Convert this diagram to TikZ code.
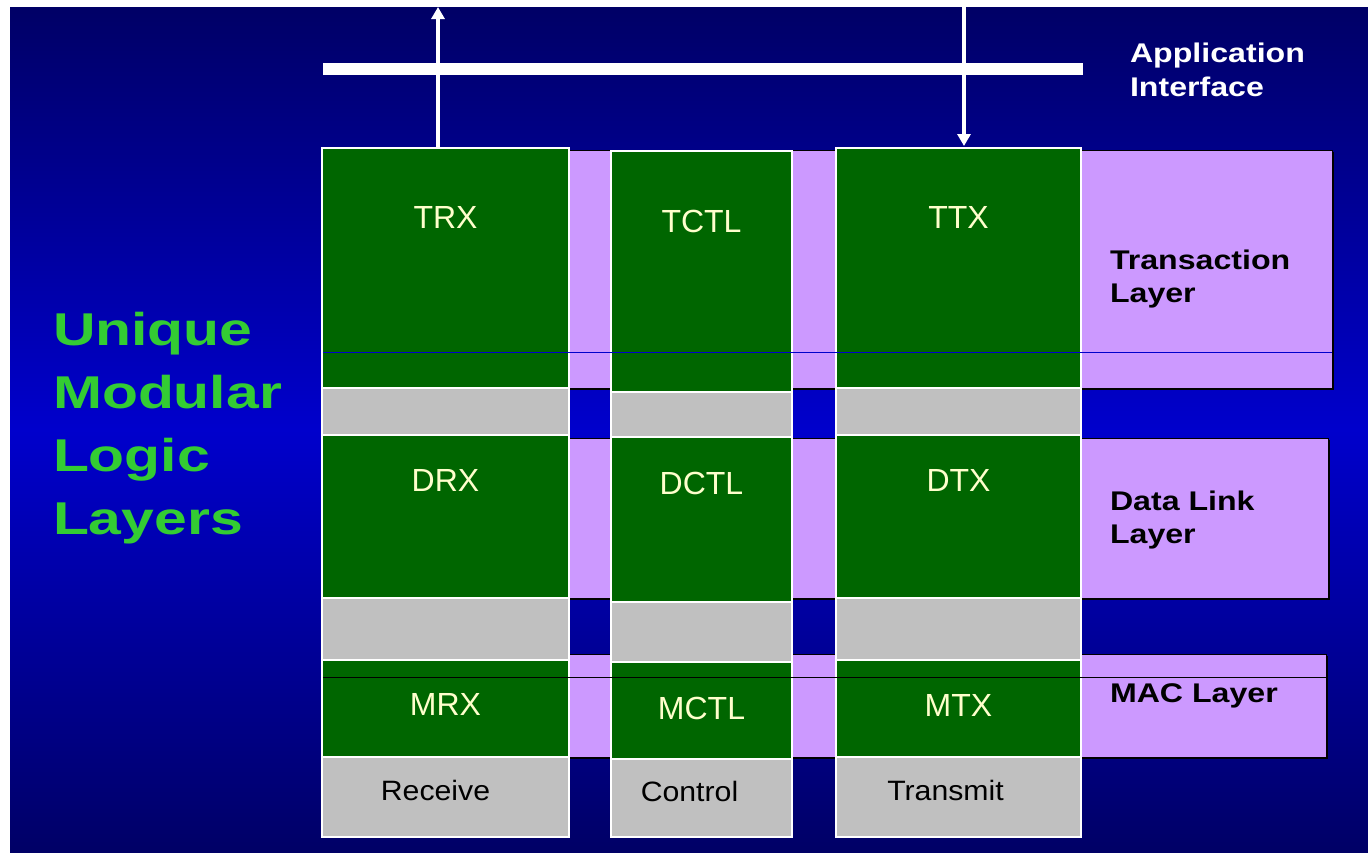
\documentclass[tikz,border=0pt]{standalone}
\usepackage{fontspec}
\setmainfont{Liberation Sans}
\newfontfamily\titlefont[FakeStretch=1.28]{Liberation Sans}
\newfontfamily\layerfont[FakeStretch=1.19]{Liberation Sans}
\newfontfamily\basefont[FakeStretch=1.08]{Liberation Sans}
\usetikzlibrary{positioning}
\usetikzlibrary{arrows.meta}
\definecolor{bgdark}{HTML}{000066}
\definecolor{bgmid}{HTML}{0000CC}
\definecolor{layerpurple}{HTML}{CC99FF}
\definecolor{modgreen}{HTML}{006600}
\definecolor{modgray}{HTML}{C0C0C0}
\definecolor{modtext}{HTML}{FFFFCC}
\definecolor{titlegreen}{HTML}{33CC33}
\tikzset{x=1pt, y=-1pt,
    every node/.style={
        inner sep=0pt,
        outer sep=0pt},
    layerband/.style={
        draw=black,
        fill=layerpurple,
        line width=0.8pt,
        anchor=north west,
        preaction={fill=black, transform canvas={shift={(2pt,-2pt)}}}},
    greenbox/.style={
        draw=white,
        line width=2pt,
        fill=modgreen},
    graybox/.style={
        draw=white,
        line width=2pt,
        fill=modgray},
    rxcol/.style={minimum width=247},
    ctlcol/.style={minimum width=181},
    txcol/.style={minimum width=245},
    modlabel/.style={
        anchor=base,
        text=modtext,
        font=\fontsize{32}{38}\selectfont},
    baselabel/.style={
        anchor=base,
        text=black,
        font=\basefont\fontsize{28}{34}\selectfont},
    layertext/.style={
        anchor=north west,
        align=left,
        text=black,
        font=\layerfont\fontsize{27}{33}\selectfont\bfseries},
    apiarrow/.style={
        draw=white,
        line width=3.5pt,
        -{Triangle[width=13pt,length=12pt]}}}
\begin{document}
\begin{tikzpicture}
    \useasboundingbox (0,0) rectangle (1368,852);
    \fill[white] (0,0) rectangle (1368,852);
    \shade[top color=bgdark, bottom color=bgdark, middle color=bgmid] (10,7) rectangle (1368,852);

    % layer bands
    \node[layerband, minimum width=1002, minimum height=238] (transband) at (330,150) {};
    \node[layerband, minimum width=768, minimum height=160] (dlband) at (560,438) {};
    \node[layerband, minimum width=766, minimum height=103] (macband) at (560,654) {};

    % receive column
    \node[greenbox, rxcol, minimum height=240, anchor=north] (trx) at (445.5,148) {};
    \node[graybox, rxcol, minimum height=47, below=0pt of trx] (rxgapa) {};
    \node[greenbox, rxcol, minimum height=163, below=0pt of rxgapa] (drx) {};
    \node[graybox, rxcol, minimum height=62, below=0pt of drx] (rxgapb) {};
    \node[greenbox, rxcol, minimum height=97, below=0pt of rxgapb] (mrx) {};
    \node[graybox, rxcol, minimum height=80, below=0pt of mrx] (rxbase) {};

    % control column
    \node[greenbox, ctlcol, minimum height=241, anchor=north] (tctl) at (701.5,151) {};
    \node[graybox, ctlcol, minimum height=45, below=0pt of tctl] (ctlgapa) {};
    \node[greenbox, ctlcol, minimum height=165, below=0pt of ctlgapa] (dctl) {};
    \node[graybox, ctlcol, minimum height=60, below=0pt of dctl] (ctlgapb) {};
    \node[greenbox, ctlcol, minimum height=97, below=0pt of ctlgapb] (mctl) {};
    \node[graybox, ctlcol, minimum height=78, below=0pt of mctl] (ctlbase) {};

    % transmit column
    \node[greenbox, txcol, minimum height=240, anchor=north] (ttx) at (958.5,148) {};
    \node[graybox, txcol, minimum height=47, below=0pt of ttx] (txgapa) {};
    \node[greenbox, txcol, minimum height=163, below=0pt of txgapa] (dtx) {};
    \node[graybox, txcol, minimum height=62, below=0pt of dtx] (txgapb) {};
    \node[greenbox, txcol, minimum height=97, below=0pt of txgapb] (mtx) {};
    \node[graybox, txcol, minimum height=80, below=0pt of mtx] (txbase) {};

    % layer rules
    \draw[color=bgmid, line width=1pt] (323,352) -- (1332,352);
    \draw[color=black, line width=1pt] (323,677) -- (1326,677);

    % module labels
    \node[modlabel] (trxtext) at ([yshift=-80pt]trx.north) {TRX};
    \node[modlabel] (tctltext) at ([yshift=-81pt]tctl.north) {TCTL};
    \node[modlabel] (ttxtext) at ([yshift=-80pt]ttx.north) {TTX};
    \node[modlabel] (drxtext) at ([yshift=-56pt]drx.north) {DRX};
    \node[modlabel] (dctltext) at ([yshift=-57.5pt]dctl.north) {DCTL};
    \node[modlabel] (dtxtext) at ([yshift=-56pt]dtx.north) {DTX};
    \node[modlabel] (mrxtext) at ([yshift=-55.5pt]mrx.north) {MRX};
    \node[modlabel] (mctltext) at ([yshift=-57pt]mctl.north) {MCTL};
    \node[modlabel] (mtxtext) at ([yshift=-56pt]mtx.north) {MTX};
    \node[baselabel] (rxtext) at ([xshift=-10pt,yshift=-43pt]rxbase.north) {Receive};
    \node[baselabel] (ctltext) at ([xshift=-12pt,yshift=-42pt]ctlbase.north) {Control};
    \node[baselabel] (txtext) at ([xshift=-13pt,yshift=-43pt]txbase.north) {Transmit};

    % layer names
    \node[layertext] (translbl) at (1110,250) {Transaction\\Layer};
    \node[layertext] (dllbl) at (1110,491) {Data Link\\Layer};
    \node[layertext] (maclbl) at (1110,684) {MAC Layer};

    % application interface
    \node[fill=white, minimum width=760, minimum height=12, anchor=north west] (apibar) at (323,63) {};
    \coordinate (uptip) at (438,7);
    \coordinate (downtail) at (964,7);
    \draw[apiarrow] (trx.north -| uptip) -- (uptip);
    \draw[apiarrow, shorten >=2pt] (downtail) -- (downtail |- ttx.north);
    \node[anchor=north west, align=left, text=white,
        font=\layerfont\fontsize{27}{34}\selectfont\bfseries] (apilbl) at (1130,43) {Application\\Interface};

    % title
    \node[anchor=north west, align=left, text=titlegreen,
        font=\titlefont\fontsize{46}{63}\selectfont\bfseries] (title) at (53,312) {Unique\\Modular\\Logic\\Layers};
\end{tikzpicture}
\end{document}
